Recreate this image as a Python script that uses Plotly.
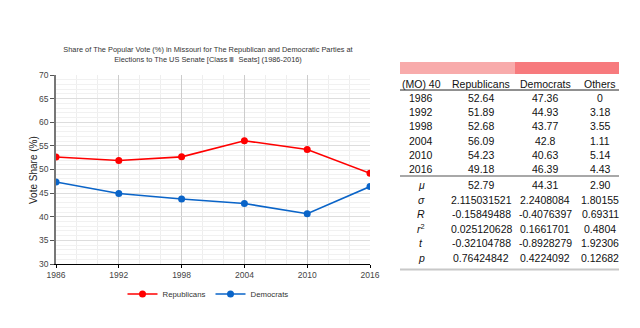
import plotly.graph_objects as go

# ---------------- data ----------------
years = [1986, 1992, 1998, 2004, 2010, 2016]
rep = [52.64, 51.89, 52.68, 56.09, 54.23, 49.18]
dem = [47.36, 44.93, 43.77, 42.8, 40.63, 46.39]
oth = [0, 3.18, 3.55, 1.11, 5.14, 4.43]

table_header = ["(MO) 40", "Republicans", "Democrats", "Others"]
stat_labels = ["<i>μ</i>", "<i>σ</i>", "<i>R</i>", "<i>r</i><sup>2</sup>", "<i>t</i>", "<i>p</i>"]
rep_stats = ["52.79", "2.115031521", "-0.15849488", "0.025120628", "-0.32104788", "0.76424842"]
dem_stats = ["44.31", "2.2408084", "-0.4076397", "0.1661701", "-0.8928279", "0.4224092"]
oth_stats = ["2.90", "1.80155", "0.69311", "0.4804", "1.92306", "0.12682"]

W, H = 640, 328
FONT = "Liberation Sans, Arial, sans-serif"


def px(x):
    return x / W


def py(y):
    return 1 - y / H


fig = go.Figure()
fig.add_trace(go.Scatter(x=years, y=rep, name="Republicans", mode="lines+markers",
                         line=dict(color="#ff0000", width=1.6),
                         marker=dict(color="#ff0000", size=7)))
fig.add_trace(go.Scatter(x=years, y=dem, name="Democrats", mode="lines+markers",
                         line=dict(color="#0a64c8", width=1.6),
                         marker=dict(color="#0a64c8", size=7)))

annotations = []
shapes = []

# y-axis title
annotations.append(dict(text="Vote Share (%)", x=px(33), y=py(170), xref="paper", yref="paper",
                        showarrow=False, textangle=-90, font=dict(size=10, color="#222", family=FONT),
                        xanchor="center", yanchor="middle"))

# ---------- table ----------
col_x = [421, 481, 545, 600]
tfont = dict(size=10.5, color="#111", family=FONT)

# pink band
shapes.append(dict(type="rect", xref="paper", yref="paper", x0=px(400), x1=px(515), y0=py(74), y1=py(62),
                   fillcolor="#f8abab", line=dict(width=0), layer="below"))
shapes.append(dict(type="rect", xref="paper", yref="paper", x0=px(515), x1=px(619), y0=py(74), y1=py(62),
                   fillcolor="#f77a7d", line=dict(width=0), layer="below"))
# rules
shapes.append(dict(type="line", xref="paper", yref="paper", x0=px(400), x1=px(619), y0=py(90), y1=py(90),
                   line=dict(color="#222", width=1)))
shapes.append(dict(type="line", xref="paper", yref="paper", x0=px(400), x1=px(619), y0=py(176), y1=py(176),
                   line=dict(color="#a8a8a8", width=2)))
shapes.append(dict(type="line", xref="paper", yref="paper", x0=px(400), x1=px(619), y0=py(269.5), y1=py(269.5),
                   line=dict(color="#c8c8c8", width=2)))

for j, h in enumerate(table_header):
    annotations.append(dict(text=h, x=px(col_x[j]), y=py(84), xref="paper", yref="paper",
                            showarrow=False, font=tfont, xanchor="center", yanchor="middle"))

for i, yr in enumerate(years):
    yy = 98 + 14.2 * i
    row = [str(yr), f"{rep[i]:g}", f"{dem[i]:g}", f"{oth[i]:g}"]
    for j, v in enumerate(row):
        annotations.append(dict(text=v, x=px(col_x[j]), y=py(yy), xref="paper", yref="paper",
                                showarrow=False, font=tfont, xanchor="center", yanchor="middle"))

for i, lab in enumerate(stat_labels):
    yy = 185 + 14.6 * i
    row = [lab, rep_stats[i], dem_stats[i], oth_stats[i]]
    for j, v in enumerate(row):
        annotations.append(dict(text=v, x=px(col_x[j]), y=py(yy), xref="paper", yref="paper",
                                showarrow=False, font=tfont, xanchor="center", yanchor="middle"))

fig.update_layout(
    width=W, height=H,
    margin=dict(l=0, r=0, t=0, b=0),
    paper_bgcolor="white", plot_bgcolor="white",
    font=dict(family=FONT, color="#444"),
    title=dict(text="Share of The Popular Vote (%) in Missouri for The Republican and Democratic Parties at<br>"
                    "Elections to The US Senate [Class Ⅲ&nbsp; Seats] (1986-2016)",
               x=px(208), xanchor="center", y=py(52), yanchor="middle",
               font=dict(size=7.4, color="#333", family=FONT)),
    xaxis=dict(domain=[px(56), px(370)], range=[1986, 2016], tick0=1986, dtick=6,
               showgrid=True, gridcolor="#cccccc", gridwidth=1,
               minor=dict(dtick=2, tick0=1986, showgrid=True, gridcolor="#eeeeee", gridwidth=1),
               showline=True, linecolor="#000", linewidth=1, ticks="outside", ticklen=3,
               tickcolor="#000", tickfont=dict(size=8.5, color="#444"), zeroline=False, automargin=False),
    yaxis=dict(domain=[py(264), py(75)], range=[30, 70], dtick=5, tick0=30,
               showgrid=True, gridcolor="#dddddd", gridwidth=1,
               minor=dict(dtick=1, showgrid=True, gridcolor="#f1f1f1", gridwidth=1),
               showline=True, linecolor="#777", linewidth=1.5, ticks="outside", ticklen=4,
               tickcolor="#555", tickfont=dict(size=8.5, color="#444"), zeroline=False, automargin=False),
    legend=dict(orientation="h", x=px(208), xanchor="center", y=py(294), yanchor="middle",
                font=dict(size=7.8, color="#333", family=FONT), bgcolor="rgba(0,0,0,0)"),
    annotations=annotations,
    shapes=shapes,
)

fig.write_html("out.html")
